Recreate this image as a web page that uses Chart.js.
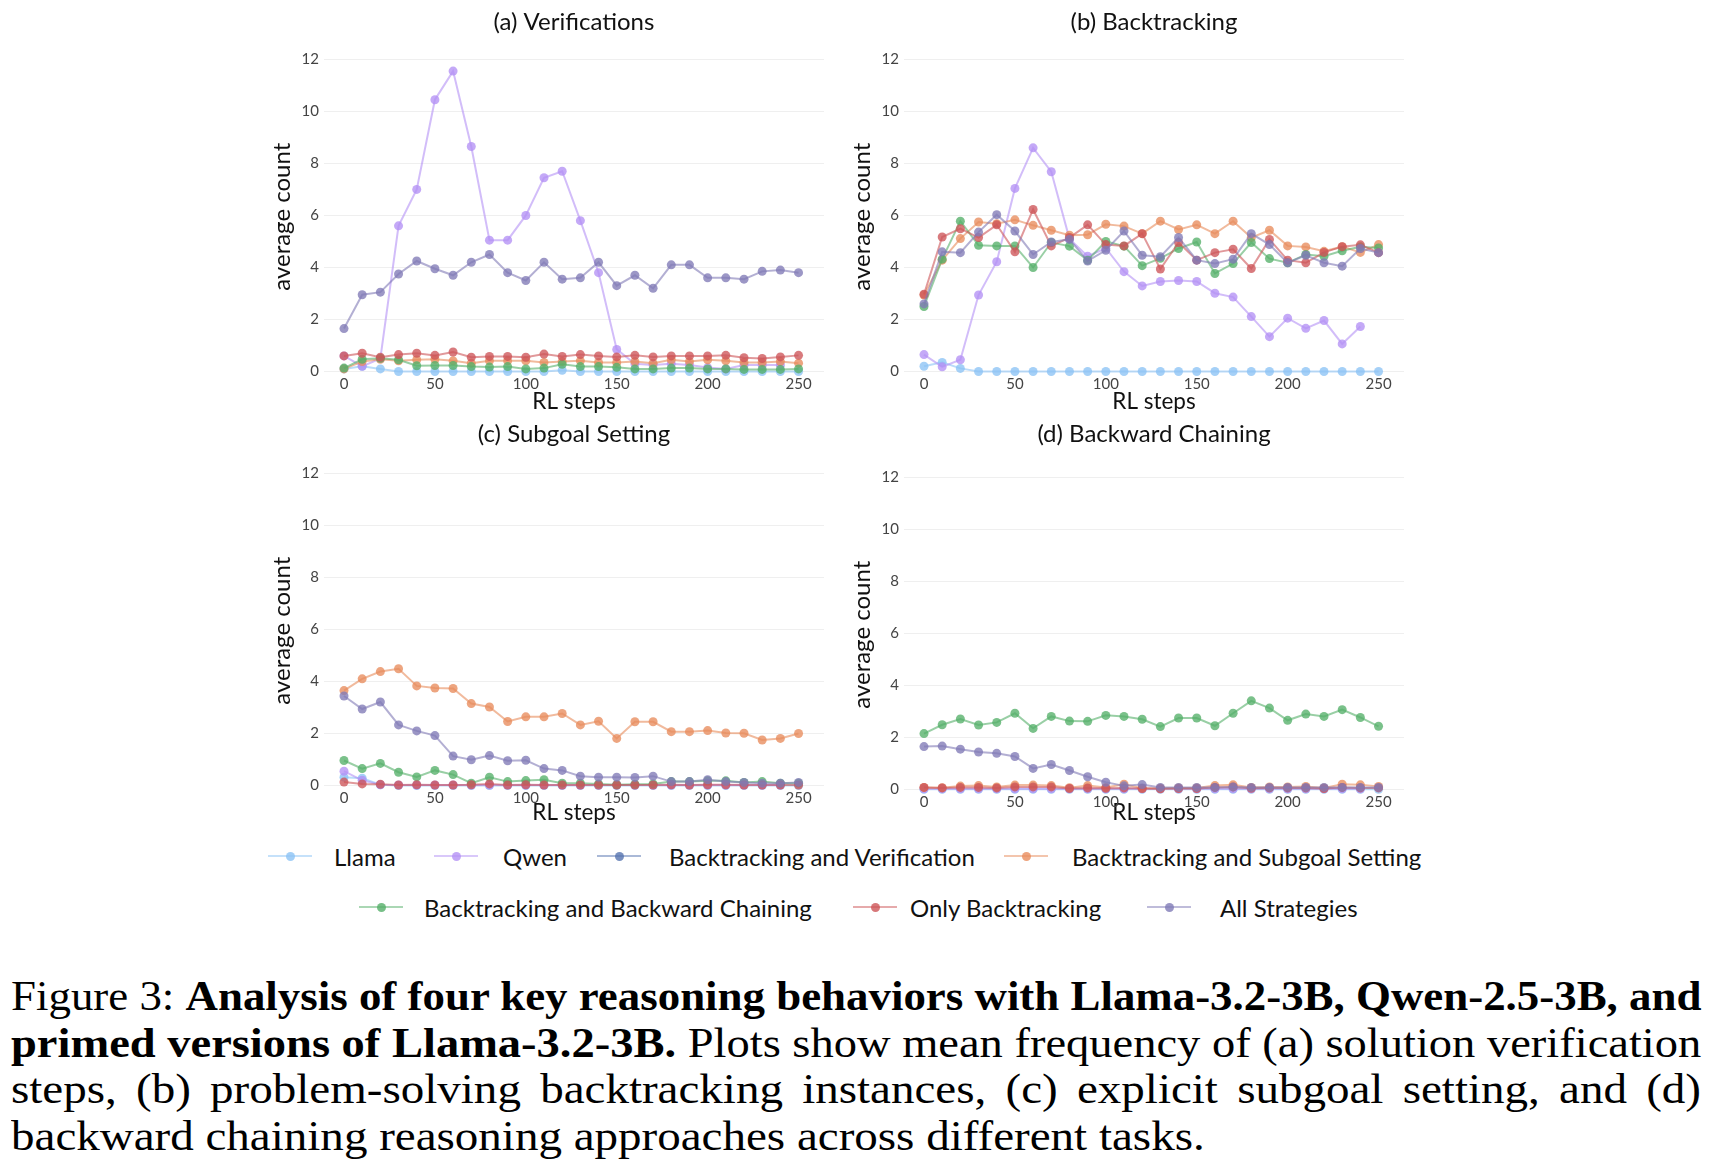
<!DOCTYPE html>
<html>
<head>
<meta charset="utf-8">
<script src="https://cdn.jsdelivr.net/npm/chart.js@4.4.1/dist/chart.umd.min.js"></script>
<style>
    html, body { margin: 0; padding: 0; background: #fff; }
    body { width: 1712px; height: 1164px; position: relative; overflow: hidden; font-family: Lato, sans-serif; }
    canvas.panel { position: absolute; }
    .legend-item { position: absolute; height: 30px; display: flex; align-items: center; font-size: 24px; color: #111; white-space: nowrap; }
    .swatch { position: relative; height: 30px; }
    .swatch .ln { position: absolute; left: 0; right: 0; top: 14px; height: 2px; }
    .swatch .dot { position: absolute; left: 50%; top: 15px; width: 9px; height: 9px; margin: -4.5px 0 0 -4.5px; border-radius: 50%; }
    .cl { position: absolute; left: 11px; font-family: "Liberation Serif", serif; font-size: 43px; line-height: 46px; color: #000; white-space: nowrap; transform-origin: 0 0; }
    .cl span { display: inline-block; white-space: nowrap; }
</style>
</head>
<body>

<div id="caption">
    <div class="cl"><span>Figure 3: <b>Analysis of four key reasoning behaviors with Llama-3.2-3B, Qwen-2.5-3B, and</b></span></div>
    <div class="cl"><span><b>primed versions of Llama-3.2-3B.</b> Plots show mean frequency of (a) solution verification</span></div>
    <div class="cl"><span>steps, (b) problem-solving backtracking instances, (c) explicit subgoal setting, and (d)</span></div>
    <div class="cl"><span>backward chaining reasoning approaches across different tasks.</span></div>
</div>

<script>
/*
  Figure 3 - reasoning behaviours over RL steps
*/

const steps = [0, 10, 20, 30, 40, 50, 60, 70, 80, 90, 100, 110, 120, 130, 140, 150, 160, 170, 180, 190, 200, 210, 220, 230, 240, 250]
const xTicks = [0, 50, 100, 150, 200, 250]
const yTicks = [0, 2, 4, 6, 8, 10, 12]

const seriesNames = ["Llama", "Qwen", "Backtracking and Verification", "Backtracking and Subgoal Setting",
    "Backtracking and Backward Chaining", "Only Backtracking", "All Strategies"]
const panelTitles = ["(a) Verifications", "(b) Backtracking", "(c) Subgoal Setting", "(d) Backward Chaining"]

// (a) verifications
const aLlama = [0.1, 0.2, 0.1, 0, 0, 0, 0, 0, 0, 0, 0, 0, 0.05, 0, 0, 0, 0, 0, 0, 0, 0, 0, 0, 0, 0, 0]
const aQwen = [0.6, 0.2, 0.5, 5.6, 7.0, 10.45, 11.55, 8.65, 5.05, 5.05, 6.0, 7.45, 7.7, 5.8, 3.8, 0.85, 0.3, 0.25, 0.3, 0.25, 0.15, 0.1, 0.25, 0.25, 0.25, null]
const aBV = []
const aBSS = [0.1, 0.38, 0.47, 0.41, 0.45, 0.47, 0.41, 0.32, 0.41, 0.41, 0.41, 0.35, 0.38, 0.41, 0.35, 0.35, 0.38, 0.32, 0.45, 0.38, 0.45, 0.41, 0.35, 0.35, 0.38, 0.32]
const aBBC = [0.13, 0.47, 0.51, 0.45, 0.22, 0.23, 0.23, 0.19, 0.17, 0.19, 0.1, 0.13, 0.28, 0.19, 0.19, 0.16, 0.1, 0.1, 0.13, 0.13, 0.1, 0.1, 0.08, 0.08, 0.08, 0.1]
const aOB = [0.6, 0.7, 0.55, 0.65, 0.7, 0.62, 0.75, 0.55, 0.58, 0.58, 0.55, 0.67, 0.58, 0.65, 0.6, 0.56, 0.62, 0.56, 0.6, 0.6, 0.6, 0.62, 0.53, 0.5, 0.56, 0.62]
const aAS = [1.65, 2.95, 3.05, 3.75, 4.25, 3.95, 3.7, 4.2, 4.5, 3.8, 3.5, 4.2, 3.55, 3.6, 4.2, 3.3, 3.7, 3.2, 4.1, 4.1, 3.6, 3.6, 3.55, 3.85, 3.9, 3.8]

// (b) backtracking
const bLlama = [0.2, 0.35, 0.12, 0, 0, 0, 0, 0, 0, 0, 0, 0, 0, 0, 0, 0, 0, 0, 0, 0, 0, 0, 0, 0, 0, 0]
const bQwen = [0.65, 0.18, 0.45, 2.94, 4.22, 7.04, 8.6, 7.68, 5.1, 4.43, 4.74, 3.84, 3.29, 3.46, 3.5, 3.46, 3.01, 2.86, 2.11, 1.34, 2.05, 1.66, 1.96, 1.06, 1.73, null]
const bBV = []
const bBSS = [2.94, 4.28, 5.11, 5.75, 5.68, 5.83, 5.62, 5.43, 5.24, 5.26, 5.66, 5.59, 5.3, 5.78, 5.46, 5.64, 5.3, 5.78, 5.15, 5.43, 4.83, 4.79, 4.62, 4.8, 4.58, 4.88]
const bBBC = [2.5, 4.32, 5.78, 4.85, 4.83, 4.83, 4.0, 4.96, 4.82, 4.28, 5.0, 4.82, 4.07, 4.35, 4.73, 4.98, 3.77, 4.15, 4.96, 4.34, 4.18, 4.5, 4.43, 4.64, 4.8, 4.75]
const bOB = [2.97, 5.17, 5.49, 5.15, 5.64, 4.6, 6.23, 4.83, 5.15, 5.64, 4.88, 4.83, 5.3, 3.94, 4.96, 4.28, 4.57, 4.7, 3.96, 5.08, 4.28, 4.18, 4.58, 4.8, 4.87, 4.57]
const bAS = [2.6, 4.6, 4.57, 5.36, 6.03, 5.4, 4.5, 4.98, 5.08, 4.25, 4.66, 5.4, 4.47, 4.41, 5.15, 4.28, 4.15, 4.32, 5.3, 4.88, 4.18, 4.47, 4.18, 4.05, 4.73, 4.57]

// (c) subgoal setting
const cLlama = [0.32, 0.28, 0.03, 0, 0, 0, 0, 0, 0, 0, 0, 0, 0, 0, 0, 0, 0, 0, 0, 0, 0, 0, 0, 0, 0, 0]
const cQwen = [0.55, 0.2, 0.03, 0.02, 0.02, 0.02, 0.02, 0.02, 0.02, 0.02, 0.02, 0.02, 0.02, 0.02, 0.02, 0.02, 0.02, 0.02, 0.02, 0.02, 0.02, 0.02, 0.02, 0.02, 0.02, null]
const cBV = []
const cBSS = [3.65, 4.1, 4.38, 4.49, 3.83, 3.75, 3.73, 3.15, 3.02, 2.46, 2.64, 2.64, 2.77, 2.33, 2.47, 1.81, 2.45, 2.45, 2.07, 2.07, 2.11, 2.02, 2.01, 1.75, 1.81, 2.0]
const cBBC = [0.96, 0.65, 0.85, 0.51, 0.33, 0.58, 0.42, 0.09, 0.32, 0.15, 0.19, 0.22, 0.09, 0.09, 0.06, 0.03, 0.05, 0.06, 0.15, 0.15, 0.18, 0.18, 0.12, 0.15, 0.09, 0.09]
const cOB = [0.13, 0.06, 0.05, 0.02, 0.03, 0.02, 0.02, 0.03, 0.06, 0.02, 0.03, 0.02, 0.02, 0.02, 0.02, 0.02, 0.02, 0.02, 0.03, 0.02, 0.03, 0.03, 0.02, 0.02, 0.02, 0.02]
const cAS = [3.44, 2.94, 3.21, 2.33, 2.1, 1.92, 1.13, 0.99, 1.15, 0.95, 0.97, 0.65, 0.58, 0.36, 0.32, 0.32, 0.31, 0.36, 0.15, 0.15, 0.22, 0.15, 0.12, 0.09, 0.09, 0.12]

// (d) backward chaining
const dLlama = [0.01, 0.01, 0.01, 0.01, 0.01, 0.01, 0.01, 0.01, 0.01, 0.01, 0.01, 0.01, 0.01, 0.01, 0.01, 0.01, 0.01, 0.01, 0.01, 0.01, 0.01, 0.01, 0.01, 0.01, 0.01, 0.01]
const dQwen = [0.03, 0.03, 0.03, 0.03, 0.03, 0.03, 0.03, 0.03, 0.03, 0.03, 0.03, 0.03, 0.03, 0.03, 0.03, 0.03, 0.03, 0.03, 0.03, 0.03, 0.03, 0.03, 0.03, 0.03, 0.03, null]
const dBV = []
const dBSS = [0.08, 0.07, 0.13, 0.15, 0.1, 0.17, 0.17, 0.15, 0.07, 0.15, 0.08, 0.2, 0.05, 0.05, 0.06, 0.06, 0.15, 0.18, 0.08, 0.1, 0.1, 0.12, 0.06, 0.2, 0.18, 0.12]
const dBBC = [2.15, 2.49, 2.71, 2.48, 2.58, 2.93, 2.35, 2.81, 2.63, 2.62, 2.85, 2.81, 2.7, 2.42, 2.75, 2.75, 2.45, 2.93, 3.41, 3.13, 2.66, 2.9, 2.81, 3.07, 2.77, 2.43]
const dOB = [0.08, 0.06, 0.08, 0.08, 0.06, 0.1, 0.1, 0.1, 0.04, 0.06, 0.05, 0.06, 0.04, 0.03, 0.04, 0.04, 0.08, 0.1, 0.05, 0.06, 0.06, 0.06, 0.04, 0.08, 0.06, 0.06]
const dAS = [1.65, 1.67, 1.55, 1.44, 1.39, 1.27, 0.81, 0.96, 0.73, 0.49, 0.28, 0.14, 0.19, 0.08, 0.08, 0.08, 0.08, 0.1, 0.08, 0.08, 0.08, 0.08, 0.08, 0.08, 0.08, 0.08]

const seriesRGB = [
    [140, 195, 245],
    [180, 145, 245],
    [85, 115, 175],
    [232, 140, 92],
    [85, 175, 105],
    [205, 85, 88],
    [128, 122, 182]
]

const FONT = "Lato"
const YW = 56          // y axis block width
const TITLE_SIZE = 24
const X_TITLE_SIZE = 22.5
const Y_TITLE_SIZE = 24
const UNIT = 26        // px per count unit

// chart area boxes: left/right edge, y pixel of the 12 line, title centre, x-title centre
const panelBoxes = [
    { left: 324, right: 824, top: 59, titleY: 22, xTitleY: 401 },
    { left: 904, right: 1404, top: 59, titleY: 22, xTitleY: 401 },
    { left: 324, right: 824, top: 473, titleY: 434, xTitleY: 812 },
    { left: 904, right: 1404, top: 477, titleY: 434, xTitleY: 812 }
]

const panelSeries = [
    [aLlama, aQwen, aBV, aBSS, aBBC, aOB, aAS],
    [bLlama, bQwen, bBV, bBSS, bBBC, bOB, bAS],
    [cLlama, cQwen, cBV, cBSS, cBBC, cOB, cAS],
    [dLlama, dQwen, dBV, dBSS, dBBC, dOB, dAS]
]

function rgba(c, a) {
    return "rgba(" + c[0] + "," + c[1] + "," + c[2] + "," + a + ")"
}

function buildPanel(index) {

    const box = panelBoxes[index]
    const yMin = -0.1
    const yMax = 12

    const titleLH = TITLE_SIZE * 1.2
    const canvasTop = box.titleY - titleLH / 2
    const titlePadBottom = box.top - canvasTop - titleLH
    const chartBottom = box.top + (yMax - yMin) * UNIT
    const XH = box.xTitleY + X_TITLE_SIZE * 0.6 - chartBottom
    const canvasLeft = box.left - YW
    const rightPad = 8
    const width = box.right - canvasLeft + rightPad
    const height = chartBottom + XH - canvasTop

    const canvas = document.createElement("canvas")
    canvas.className = "panel"
    canvas.width = Math.round(width)
    canvas.height = Math.round(height)
    canvas.style.left = canvasLeft + "px"
    canvas.style.top = canvasTop + "px"
    canvas.style.width = Math.round(width) + "px"
    canvas.style.height = Math.round(height) + "px"
    document.body.appendChild(canvas)

    const datasets = panelSeries[index].map((vals, i) => ({
        label: seriesNames[i],
        data: steps.map((x, j) => ({ x: x, y: vals[j] === undefined ? null : vals[j] })),
        borderColor: rgba(seriesRGB[i], 0.6),
        backgroundColor: rgba(seriesRGB[i], 0.78),
        pointBackgroundColor: rgba(seriesRGB[i], 0.78),
        pointBorderWidth: 0,
        pointRadius: 4.5,
        borderWidth: 2,
        tension: 0,
        clip: false,
        order: seriesNames.length - i
    }))

    new Chart(canvas, {
        type: "line",
        data: { datasets: datasets },
        options: {
            responsive: false,
            animation: false,
            events: [],
            layout: { padding: { left: 0, right: rightPad, top: 0, bottom: 0 } },
            plugins: {
                legend: { display: false },
                tooltip: { enabled: false },
                title: {
                    display: true,
                    text: panelTitles[index],
                    fullSize: false,
                    color: "#111",
                    font: { family: FONT, size: TITLE_SIZE, weight: "normal" },
                    padding: { top: 0, bottom: titlePadBottom }
                }
            },
            scales: {
                x: {
                    type: "linear",
                    min: -11,
                    max: 264,
                    afterBuildTicks: (s) => { s.ticks = xTicks.map(v => ({ value: v })) },
                    afterFit: (s) => { s.height = XH },
                    grid: { display: false, drawTicks: false },
                    border: { display: false },
                    ticks: {
                        color: "#444",
                        font: { family: FONT, size: 15 },
                        padding: 1,
                        maxRotation: 0,
                        autoSkip: false
                    },
                    title: {
                        display: true,
                        text: "RL steps",
                        color: "#111",
                        font: { family: FONT, size: X_TITLE_SIZE },
                        padding: { top: 0, bottom: 0 }
                    }
                },
                y: {
                    min: yMin,
                    max: yMax,
                    afterBuildTicks: (s) => { s.ticks = yTicks.map(v => ({ value: v })) },
                    afterFit: (s) => { s.width = YW },
                    grid: { color: "#efefef", lineWidth: 1, drawTicks: false },
                    border: { display: false },
                    ticks: {
                        color: "#444",
                        font: { family: FONT, size: 15 },
                        padding: 5
                    },
                    title: {
                        display: true,
                        text: "average count",
                        color: "#111",
                        font: { family: FONT, size: Y_TITLE_SIZE },
                        padding: { top: 0, bottom: 0 }
                    }
                }
            }
        }
    })
}

// legend: swatch start x, centre y, text start x
const legendSpots = [
    [268, 856, 334], [434, 856, 503], [597, 856, 669], [1004, 856, 1072],
    [359, 907, 424], [853, 907, 910], [1147, 907, 1220]
]

function buildLegend() {

    seriesNames.forEach((name, i) => {

        const spot = legendSpots[i]
        const item = document.createElement("div")
        item.className = "legend-item"
        item.style.left = spot[0] + "px"
        item.style.top = (spot[1] - 15) + "px"

        const sw = document.createElement("div")
        sw.className = "swatch"
        sw.style.width = "44px"
        sw.style.marginRight = (spot[2] - spot[0] - 44) + "px"
        sw.innerHTML = '<div class="ln" style="background:' + rgba(seriesRGB[i], 0.5) + '"></div>' +
            '<div class="dot" style="background:' + rgba(seriesRGB[i], 0.8) + '"></div>'

        const label = document.createElement("span")
        label.textContent = name

        item.appendChild(sw)
        item.appendChild(label)
        document.body.appendChild(item)
    })
}

function layoutCaption() {

    const lines = document.querySelectorAll(".cl")
    const tops = [973, 1020, 1066, 1113]
    const fullWidth = 1690
    const lastWidth = 1194

    const lastSpan = lines[3].querySelector("span")
    const s4 = lastWidth / lastSpan.offsetWidth

    lines.forEach((line, i) => {

        line.style.top = tops[i] + "px"
        const span = line.querySelector("span")

        if (i === 3) {
            line.style.transform = "scaleX(" + s4 + ")"
            return
        }

        const w = span.offsetWidth
        const s = Math.min(s4, fullWidth / w)
        span.style.width = (fullWidth / s) + "px"
        span.style.textAlign = "justify"
        span.style.textAlignLast = "justify"
        line.style.transform = "scaleX(" + s + ")"
    })
}

window.addEventListener("load", () => {

    panelBoxes.forEach((b, i) => buildPanel(i))
    buildLegend()
    layoutCaption()

})
</script>
</body>
</html>
